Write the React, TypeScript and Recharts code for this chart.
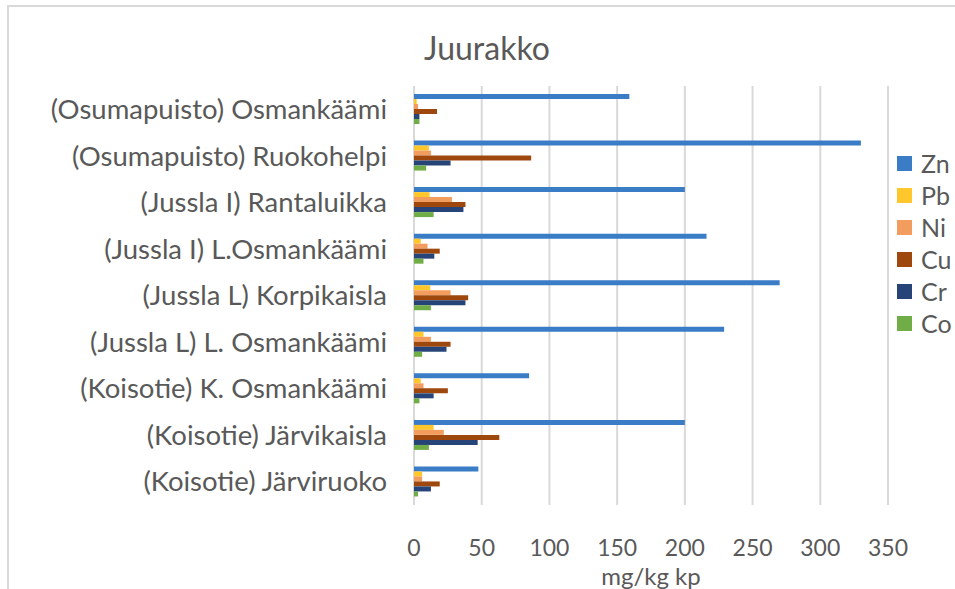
import { BarChart, Bar, XAxis, YAxis, CartesianGrid } from 'recharts';

const categories = [
  '(Osumapuisto) Osmankäämi',
  '(Osumapuisto) Ruokohelpi',
  '(Jussla I) Rantaluikka',
  '(Jussla I) L.Osmankäämi',
  '(Jussla L) Korpikaisla',
  '(Jussla L) L. Osmankäämi ',
  '(Koisotie) K. Osmankäämi',
  '(Koisotie) Järvikaisla',
  '(Koisotie) Järviruoko',
];

const zn = [159, 330, 200, 216, 270, 229, 85, 200, 47.5];
const pb = [2, 11, 11.5, 5, 12, 7, 5, 14.5, 6];
const ni = [3, 12.5, 28, 10, 27, 12.5, 7, 22, 6];
const cu = [17, 86.5, 38, 19, 40, 27, 25, 63, 19];
const cr = [4, 27, 36.5, 15, 38, 24, 14.5, 47, 12.5];
const co = [4, 9, 14.5, 7, 12.5, 6, 4, 11, 3];

const xTicks = [0, 50, 100, 150, 200, 250, 300, 350];

const series = [
  { key: 'Zn', values: zn, color: '#3A7DC6' },
  { key: 'Pb', values: pb, color: '#FFC72C' },
  { key: 'Ni', values: ni, color: '#F29D5E' },
  { key: 'Cu', values: cu, color: '#9E480E' },
  { key: 'Cr', values: cr, color: '#264478' },
  { key: 'Co', values: co, color: '#70AD47' },
];

const data = categories.map((name, i) => {
  const row: Record<string, string | number> = { name };
  series.forEach((s) => (row[s.key] = s.values[i]));
  return row;
});

const FONT = 'Lato, "Open Sans", sans-serif';
const TEXT = '#595959';

export default function App() {
  return (
    <div style={{ position: 'absolute', left: 0, top: 0, width: 955, height: 589, background: '#fff', overflow: 'hidden' }}>
      <div style={{ position: 'absolute', left: 7, top: 5, width: 960, height: 600, borderTop: '2px solid #d9d9d9', borderLeft: '2px solid #d9d9d9' }} />
      <div
        style={{
          position: 'absolute', left: 250, width: 474, top: 28, textAlign: 'center',
          fontFamily: FONT, fontSize: 32, color: TEXT, lineHeight: '40px',
        }}
      >
        Juurakko
      </div>
      {/* legend */}
      <div style={{ position: 'absolute', left: 897, top: 147, fontFamily: FONT, color: TEXT }}>
        {series.map((s) => (
          <div key={s.key} style={{ display: 'flex', alignItems: 'center', height: 32 }}>
            <span style={{ width: 15, height: 15, background: s.color, marginRight: 9 }} />
            <span style={{ fontSize: 25 }}>{s.key}</span>
          </div>
        ))}
      </div>
      <BarChart
        width={955}
        height={589}
        data={data}
        layout="vertical"
        margin={{ top: 86, right: 67, bottom: 44, left: 0 }}
        barCategoryGap={8}
        barGap={0}
      >
        <CartesianGrid horizontal={false} stroke="#d9d9d9" strokeWidth={2} />
        <XAxis
          type="number"
          domain={[0, 350]}
          ticks={xTicks}
          interval={0}
          axisLine={false}
          tickLine={false}
          tick={{ fill: TEXT, fontSize: 23, fontFamily: FONT, dy: 27 }}
          height={40}
          label={{ value: 'mg/kg kp', position: 'insideBottom', dy: 45, fill: TEXT, fontSize: 24, fontFamily: FONT }}
        />
        <YAxis
          type="category"
          dataKey="name"
          width={414}
          axisLine={false}
          tickLine={false}
          tickSize={0}
          tickMargin={27}
          interval={0}
          tick={{ fill: TEXT, fontSize: 27.5, fontFamily: FONT }}
        />
        {series.map((s) => (
          <Bar key={s.key} dataKey={s.key} fill={s.color} isAnimationActive={false} />
        ))}
      </BarChart>
    </div>
  );
}
